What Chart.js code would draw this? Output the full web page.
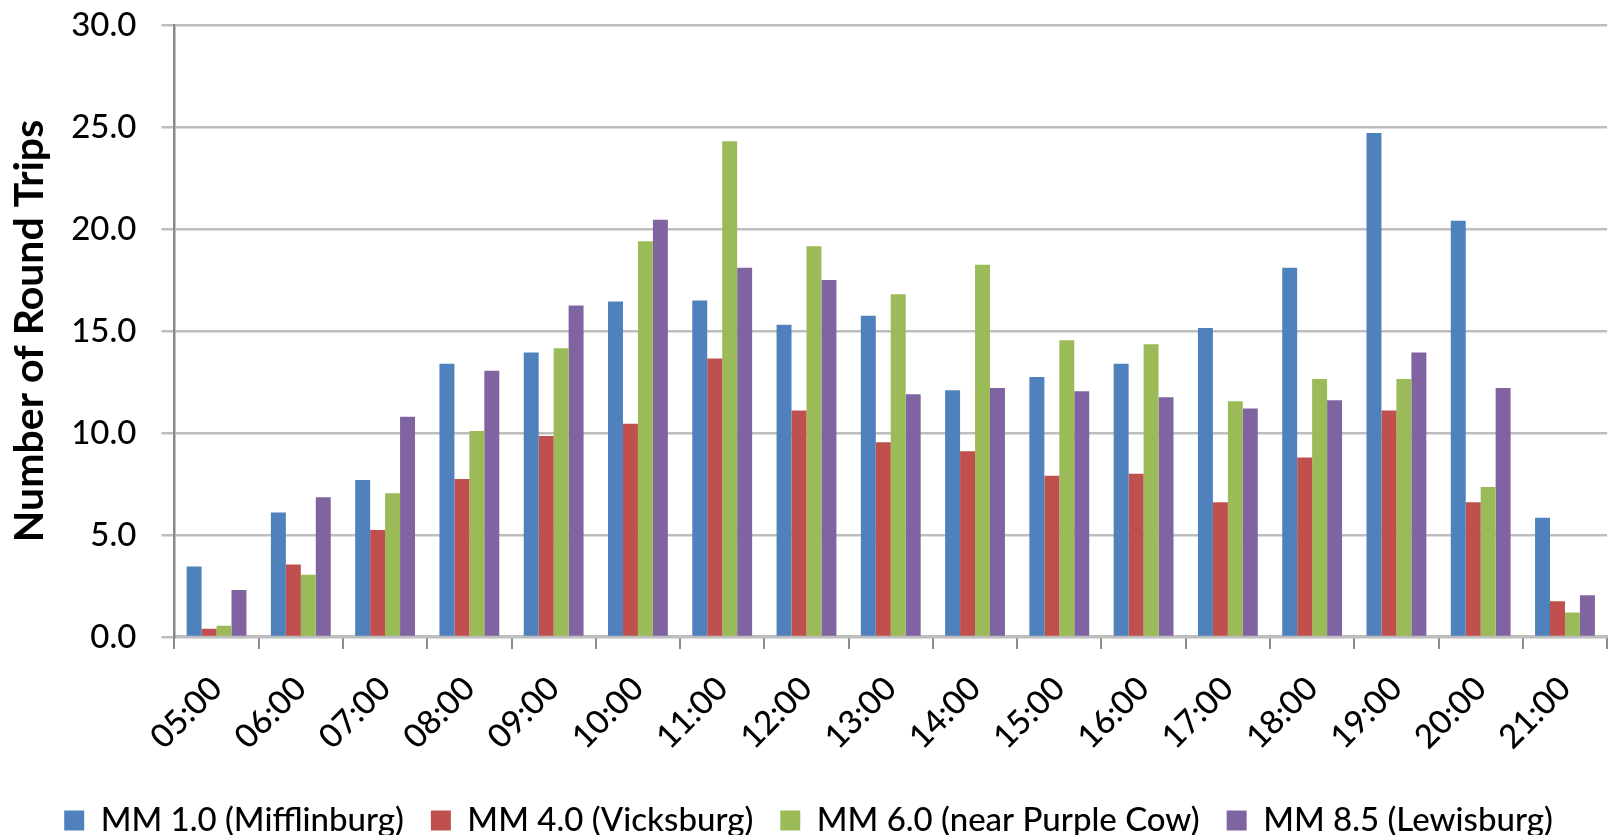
<!DOCTYPE html>
<html>
<head>
<meta charset="utf-8">
<title>Round trips by hour</title>
<script src="https://cdn.jsdelivr.net/npm/chart.js@4.4.1/dist/chart.umd.min.js"></script>
<style>
  html, body { margin: 0; padding: 0; background: #ffffff; }
  #wrap { width: 1613px; height: 835px; position: relative; }
</style>
</head>
<body>
<div id="wrap"><canvas id="chart"></canvas></div>
<script>
// Hour of day categories
const hours = ['05:00', '06:00', '07:00', '08:00', '09:00', '10:00', '11:00', '12:00', '13:00',
               '14:00', '15:00', '16:00', '17:00', '18:00', '19:00', '20:00', '21:00'];

// Round trips per counting station
const mifflinburg = [3.46, 6.1, 7.7, 13.4, 13.95, 16.45, 16.5, 15.3, 15.75, 12.1, 12.75, 13.4, 15.15, 18.1, 24.7, 20.4, 5.85];
const vicksburg   = [0.4, 3.55, 5.25, 7.75, 9.85, 10.45, 13.65, 11.1, 9.55, 9.1, 7.9, 8.0, 6.6, 8.8, 11.1, 6.6, 1.75];
const purpleCow   = [0.55, 3.05, 7.05, 10.1, 14.15, 19.4, 24.3, 19.15, 16.8, 18.25, 14.55, 14.35, 11.55, 12.65, 12.65, 7.35, 1.2];
const lewisburg   = [2.3, 6.85, 10.8, 13.05, 16.25, 20.45, 18.1, 17.5, 11.9, 12.2, 12.05, 11.75, 11.2, 11.6, 13.95, 12.2, 2.05];

const seriesNames = ['MM 1.0 (Mifflinburg)', 'MM 4.0 (Vicksburg)', 'MM 6.0 (near Purple Cow)', 'MM 8.5 (Lewisburg)'];
const seriesColors = ['#4F81BD', '#C0504D', '#9BBB59', '#8064A2'];

// y-axis range
const yMin = 0, yMax = 30, yStep = 5;

const FONT = 'Lato, "Open Sans", sans-serif';

const seriesData = [mifflinburg, vicksburg, purpleCow, lewisburg];
const datasets = seriesData.map((vals, i) => ({
  label: seriesNames[i],
  data: vals,
  backgroundColor: seriesColors[i],
  borderWidth: 0,
  barPercentage: 1.0,
  categoryPercentage: 0.71
}));

new Chart(document.getElementById('chart'), {
  type: 'bar',
  data: { labels: hours, datasets },
  options: {
    responsive: true,
    maintainAspectRatio: false,
    animation: false,
    // negative bottom padding lets the legend sit closer to the canvas edge
    layout: { padding: { top: 25, right: 1, left: 5, bottom: -12 } },
    plugins: {
      tooltip: { enabled: false },
      legend: {
        position: 'bottom',
        labels: {
          boxWidth: 20,
          boxHeight: 20,
          padding: 27,
          color: '#000000',
          font: { family: FONT, size: 33, weight: 500 }
        }
      }
    },
    scales: {
      x: {
        border: { display: true, color: '#BDBDBD', width: 3 },
        grid: {
          drawOnChartArea: false,
          drawTicks: true,
          tickLength: 12,
          color: '#8C8C8C',
          lineWidth: 2,
          offset: true
        },
        ticks: {
          color: '#000000',
          font: { family: FONT, size: 33, weight: 500 },
          minRotation: 45,
          maxRotation: 45,
          padding: 20,
          autoSkip: false
        }
      },
      y: {
        min: yMin,
        max: yMax,
        border: { display: true, color: '#8A8A8A', width: 2.5 },
        grid: {
          color: '#BEBEBE',
          lineWidth: 2.5,
          drawTicks: true,
          tickLength: 13
        },
        ticks: {
          stepSize: yStep,
          color: '#000000',
          padding: 25,
          font: { family: FONT, size: 33, weight: 500 },
          callback: v => Number(v).toFixed(1)
        },
        title: {
          display: true,
          text: 'Number of Round Trips',
          color: '#000000',
          font: { family: FONT, size: 41, weight: 'bold' },
          padding: { top: 0, bottom: -8 }
        },
        // the top tick label may overhang the plot; keep the plot top at the layout padding
        afterFit: scale => { scale.paddingTop = 0; }
      }
    }
  }
});
</script>
</body>
</html>
